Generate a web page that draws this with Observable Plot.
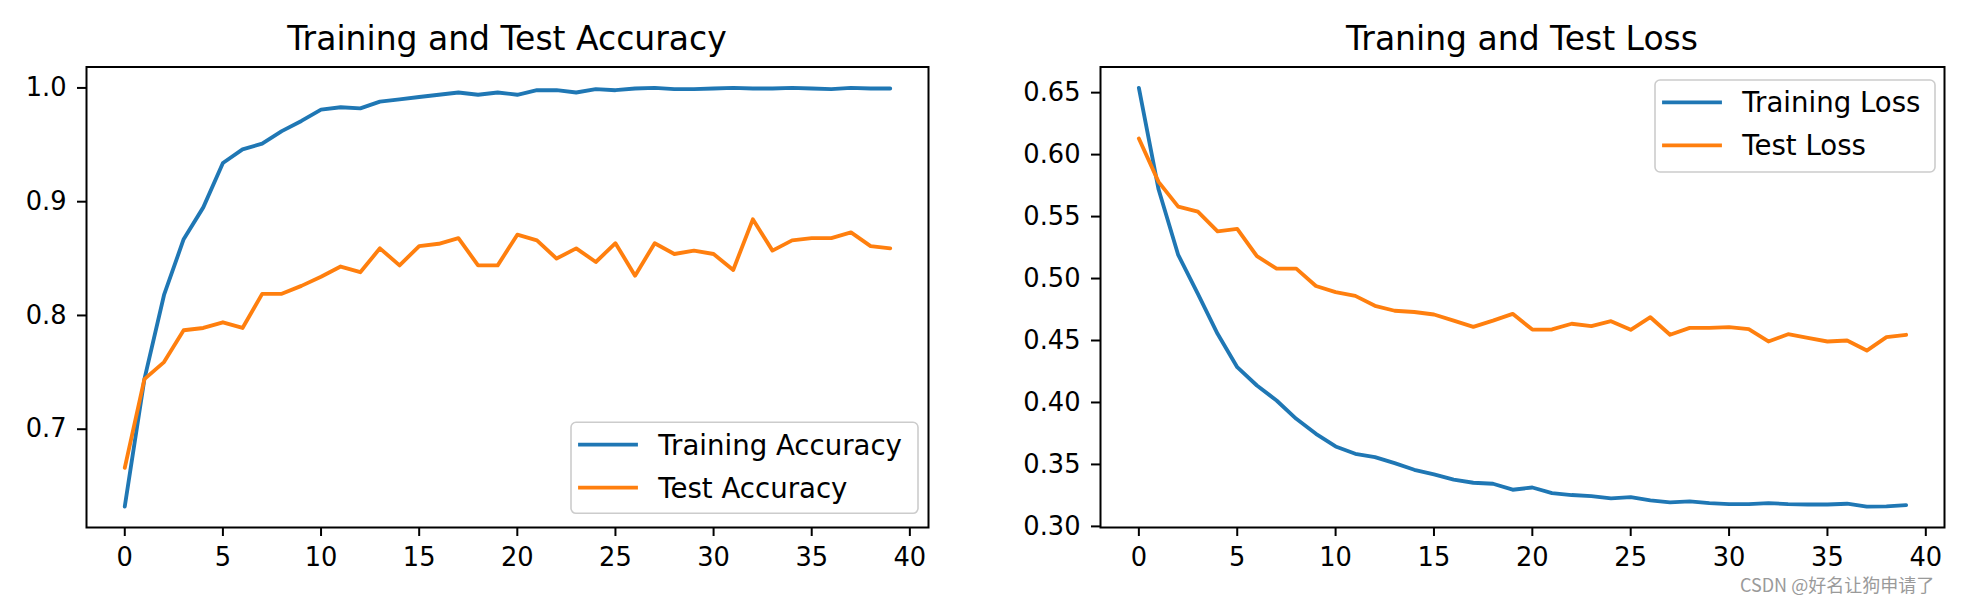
<!DOCTYPE html>
<html><head><meta charset="utf-8">
<script src="https://cdn.jsdelivr.net/npm/d3@7"></script>
<script src="https://cdn.jsdelivr.net/npm/@observablehq/plot@0.6"></script>
<style>
body{margin:0;background:#fff;}
#wrap{position:relative;width:1962px;height:596px;overflow:hidden;background:#fff;}
#wrap svg{position:absolute;top:0;}
#wm{position:absolute;left:1740px;top:575px;font-family:"Noto Sans CJK SC";font-size:18px;color:#9a9a9a;white-space:nowrap;line-height:1;}
</style></head><body>
<div id="wrap"><div id="wm">CSDN @好名让狗申请了</div></div>
<script>
const epochs = [0,1,2,3,4,5,6,7,8,9,10,11,12,13,14,15,16,17,18,19,20,21,22,23,24,25,26,27,28,29,30,31,32,33,34,35,36,37,38,39];
const xTicks = [0,5,10,15,20,25,30,35,40];

const accNames = ["Training Accuracy", "Test Accuracy"];
const trainAcc = [0.632,0.744,0.818,0.867,0.895,0.934,0.946,0.951,0.962,0.971,0.981,0.983,0.982,0.988,0.990,0.992,0.994,0.996,0.994,0.996,0.994,0.998,0.998,0.996,0.999,0.998,0.9995,1.000,0.999,0.999,0.9995,1.000,0.9995,0.9995,1.000,0.9995,0.999,1.000,0.9995,0.9995];
const testAcc = [0.666,0.744,0.759,0.787,0.789,0.794,0.789,0.819,0.819,0.826,0.834,0.843,0.838,0.859,0.844,0.861,0.863,0.868,0.844,0.844,0.871,0.866,0.850,0.859,0.847,0.8635,0.835,0.8635,0.854,0.857,0.854,0.840,0.8845,0.857,0.866,0.868,0.868,0.873,0.861,0.859];
const accTicks = [0.7,0.8,0.9,1.0];

const lossNames = ["Training Loss", "Test Loss"];
const trainLoss = [0.6538,0.572,0.519,0.4877,0.4554,0.4285,0.4137,0.4016,0.3868,0.3747,0.3645,0.3586,0.3559,0.3510,0.3457,0.3419,0.3377,0.3352,0.3344,0.3296,0.3314,0.3269,0.3253,0.3244,0.3226,0.3236,0.3210,0.3194,0.3202,0.3188,0.3180,0.3180,0.3188,0.3180,0.3177,0.3177,0.3183,0.3160,0.3162,0.3172];
const testLoss = [0.613,0.578,0.558,0.554,0.538,0.540,0.518,0.508,0.508,0.494,0.489,0.486,0.478,0.474,0.473,0.471,0.466,0.461,0.466,0.4715,0.4588,0.4589,0.4635,0.4616,0.4656,0.4586,0.4688,0.4546,0.4602,0.4602,0.4608,0.4592,0.4492,0.4551,0.4521,0.4492,0.4500,0.4419,0.4527,0.4546];
const lossTicks = [0.30,0.35,0.40,0.45,0.50,0.55,0.60,0.65];

const colors = ["#1f77b4", "#ff7f0e"];
const FONT = "DejaVu Sans";
const H = 596, MT = 66.5, MB = 69;

function panel(cfg) {
  const rows = [];
  cfg.series.forEach((vals, s) => vals.forEach((v, i) => rows.push({epoch: epochs[i], value: v, name: cfg.names[s]})));
  const all = cfg.series.flat();
  const lo = d3.min(all), hi = d3.max(all), pad = (hi - lo) * 0.05;
  const xlo = d3.min(epochs), xhi = d3.max(epochs), xpad = (xhi - xlo) * 0.05;
  const svg = Plot.plot({
    width: 981, height: H,
    marginLeft: cfg.ml, marginRight: cfg.mr, marginTop: MT, marginBottom: MB,
    style: {fontFamily: FONT, fontSize: "25.7px", background: "transparent", color: "#000", overflow: "visible"},
    x: {domain: [xlo - xpad, xhi + xpad]},
    y: {domain: [lo - pad, hi + pad]},
    color: {domain: cfg.names, range: colors},
    marks: [
      Plot.axisX({ticks: xTicks, tickFormat: d => String(d), tickSize: 9, tickPadding: 11, strokeWidth: 2, label: null, fontSize: 25.7}),
      Plot.axisY({ticks: cfg.yTicks, tickFormat: d3.format(cfg.fmt), tickSize: 9, tickPadding: 11, strokeWidth: 2, label: null, fontSize: 25.7}),
      Plot.line(rows, {x: "epoch", y: "value", z: "name", stroke: "name", strokeWidth: 3.85}),
      Plot.frame({stroke: "#000", strokeWidth: 2})
    ]
  });
  svg.style.left = cfg.left + "px";
  const s = d3.select(svg);
  s.append("text")
    .attr("x", (cfg.ml + 981 - cfg.mr) / 2).attr("y", 50)
    .attr("text-anchor", "middle").attr("font-family", FONT).attr("font-size", 33).attr("fill", "#000")
    .text(cfg.title);
  const L = cfg.legend;
  const g = s.append("g");
  g.append("rect").attr("x", L.x).attr("y", L.y).attr("width", L.w).attr("height", L.h).attr("rx", 5)
    .attr("fill", "rgba(255,255,255,0.8)").attr("stroke", "#cccccc").attr("stroke-width", 1.6);
  cfg.names.forEach((n, k) => {
    const ry = L.y + 22.3 + k * 43;
    g.append("line").attr("x1", L.x + 9).attr("x2", L.x + 65).attr("y1", ry).attr("y2", ry)
      .attr("stroke", colors[k]).attr("stroke-width", 3.85).attr("stroke-linecap", "square");
    g.append("text").attr("x", L.x + 87.3).attr("y", ry).attr("dy", "0.36em")
      .attr("text-anchor", "start")
      .attr("font-family", FONT).attr("font-size", 27.6).attr("fill", "#000").text(n);
  });
  const wrap = document.getElementById("wrap");
  wrap.insertBefore(svg, document.getElementById("wm"));
}

panel({left: 0, ml: 86, mr: 53, names: accNames, series: [trainAcc, testAcc], yTicks: accTicks, fmt: ".1f",
  title: "Training and Test Accuracy", legend: {x: 571, y: 422.3, w: 347, h: 91}});
panel({left: 981, ml: 119, mr: 18, names: lossNames, series: [trainLoss, testLoss], yTicks: lossTicks, fmt: ".2f",
  title: "Traning and Test Loss", legend: {x: 674, y: 80, w: 280, h: 92}});
</script>
</body></html>
